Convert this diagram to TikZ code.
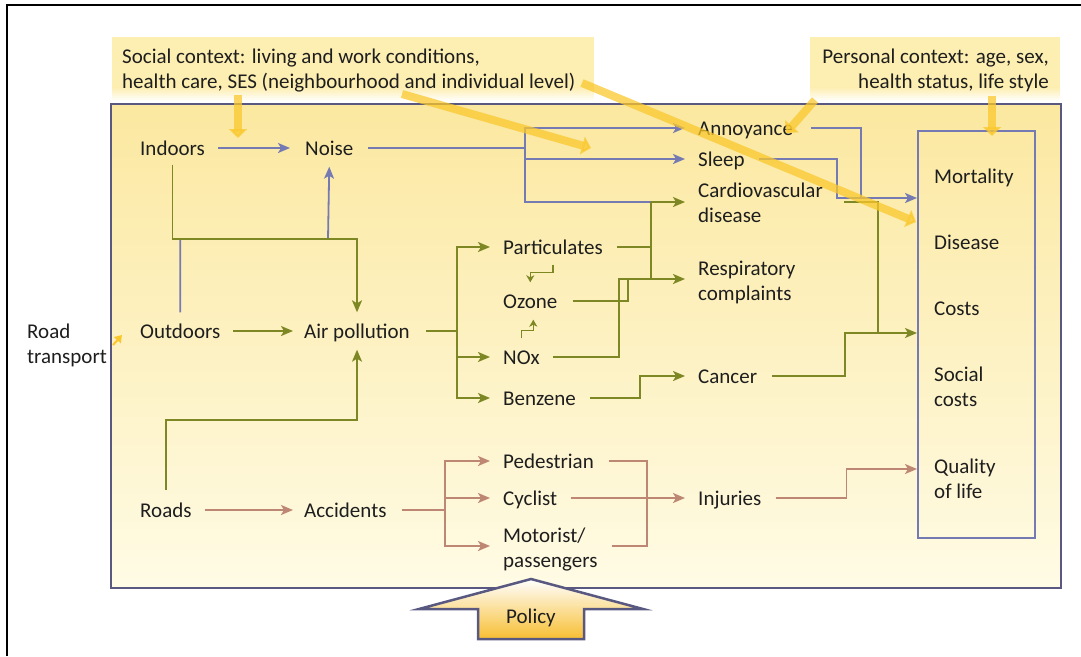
\documentclass[tikz,border=0pt]{standalone}
\usepackage{fontspec}
\setmainfont{Carlito}
\usetikzlibrary{arrows.meta}
\definecolor{cblue}{RGB}{118,122,178}
\definecolor{cgreen}{RGB}{125,135,35}
\definecolor{cred}{RGB}{190,135,115}
\definecolor{cframe}{RGB}{88,88,128}
\definecolor{cyel}{RGB}{250,200,45}
\definecolor{ctx}{RGB}{253,238,178}
\definecolor{btop}{RGB}{251,232,160}
\definecolor{bbot}{RGB}{255,251,229}
\definecolor{ctext}{RGB}{30,30,30}
\definecolor{cpol}{RGB}{247,190,50}
\newcommand{\twol}[1]{\begin{tabular}[t]{@{}l@{}}#1\end{tabular}}
\newcommand{\twor}[1]{\begin{tabular}[t]{@{}r@{}}#1\end{tabular}}
\begin{document}
\begin{tikzpicture}[x=1pt,y=-1pt,
  font=\fontsize{21}{25}\selectfont, text=ctext,
  lbl/.style={inner sep=0pt,anchor=base west,text height=17.5pt,text depth=3.5pt},
  mlbl/.style={inner sep=0pt,anchor=base west},
  bl/.style={draw=cblue,line width=1.8pt},
  gl/.style={draw=cgreen,line width=1.8pt},
  rl/.style={draw=cred,line width=1.8pt},
  tip/.style={-{Stealth[length=12pt,width=10pt,inset=3pt]}},
  stip/.style={-{Stealth[length=7pt,width=8pt,inset=2pt]}},
  yarr/.style={draw=cyel,line width=8pt,opacity=0.75,-{Triangle[length=9pt,width=18pt]}},
]
\useasboundingbox (0,0) rectangle (1081,656);
% outer frame
\draw[black,line width=2.5pt] (7,656) -- (7,5) -- (1081,5);
% context boxes
\fill[ctx] (112,37) rectangle (594,88);
\shade[top color=ctx,bottom color=white] (112,87.5) rectangle (594,101);
\fill[ctx] (810,37) rectangle (1060,88);
\shade[top color=ctx,bottom color=white] (810,87.5) rectangle (1060,101);
% main box
\draw[cframe,line width=2.5pt,top color=btop,bottom color=bbot] (111,104) rectangle (1061,588);
% outcome box
\node (rbox) [draw=cblue,line width=1.5pt,inner sep=0pt,minimum width=117pt,minimum height=407pt,anchor=north west] at (917,130) {};
% labels
\node[mlbl] (socctx) at (122,63) {\twol{Social context: living and work conditions,\\health care, SES (neighbourhood and individual level)}};
\node[mlbl,anchor=base east] (perctx) at (1049,63) {\twor{Personal context: age, sex,\\health status, life style}};
\node[mlbl] (road) at (27,338) {\twol{Road\\transport}};
\node[lbl] (indoors) at (140,155) {Indoors};
\node[lbl] (noise) at (305,155) {Noise};
\node[lbl] (outdoors) at (140,338) {Outdoors};
\node[lbl] (airp) at (304,338) {Air pollution};
\node[lbl] (roads) at (140,517) {Roads};
\node[lbl] (accid) at (304,517) {Accidents};
\node[lbl] (partic) at (503,254) {Particulates};
\node[lbl] (ozone) at (503,308) {Ozone};
\node[lbl] (nox) at (503,364) {NOx};
\node[lbl] (benz) at (503,405) {Benzene};
\node[lbl] (annoy) at (698,135) {Annoyance};
\node[lbl] (sleep) at (698,166) {Sleep};
\node[mlbl] (cardio) at (698,197) {\twol{Cardiovascular\\disease}};
\node[mlbl] (resp) at (698,275) {\twol{Respiratory\\complaints}};
\node[lbl] (cancer) at (698,383) {Cancer};
\node[lbl] (ped) at (503,468) {Pedestrian};
\node[lbl] (cyc) at (503,505) {Cyclist};
\node[mlbl] (motor) at (503,542) {\twol{Motorist/\\passengers}};
\node[lbl] (inj) at (698,505) {Injuries};
\node[lbl] (mort) at (934,183) {Mortality};
\node[lbl] (dis) at (934,249) {Disease};
\node[lbl] (costs) at (934,315) {Costs};
\node[mlbl] (soc) at (934,381) {\twol{Social\\costs}};
\node[mlbl] (qual) at (934,473) {\twol{Quality\\of life}};
% blue connectors
\coordinate (jb) at (328,239);
\draw[bl,tip] ([xshift=13pt]indoors.east) -- ([xshift=-15pt]noise.west);
\draw[bl,tip] ([yshift=8pt]outdoors.north) |- (jb) -- ([yshift=-8pt]noise.south);
\coordinate (nbr) at (525,148);
\coordinate (cvj) at (651,202);
\draw[bl] ([xshift=14pt]noise.east) -- (nbr);
\draw[bl,tip] (nbr) |- ([xshift=-13pt]annoy.west);
\draw[bl,tip] (nbr |- sleep.west) -- ([xshift=-13pt]sleep.west);
\draw[bl] (nbr) |- (cvj);
\coordinate (mortin) at (rbox.west |- 0,198);
\coordinate (am) at (861,198);
\coordinate (sm) at (837,198);
\draw[bl] ([xshift=14pt]sleep.east) -| (sm) -- (am);
\draw[bl,tip] ([xshift=18pt]annoy.east) -| (am) -- (mortin);
% green connectors
\coordinate (rsj) at (651,279);
\coordinate (oz) at (628,279);
\coordinate (nx) at (619,279);
\draw[gl,tip] (cvj) -- ([xshift=-13pt,yshift=2.5pt]cardio.west);
\draw[gl] (cvj) -- (rsj);
\draw[gl,tip] (rsj) -- ([xshift=-13pt,yshift=3.5pt]resp.west);
\draw[gl] ([xshift=14pt]partic.east) -- (partic.east -| cvj);
\draw[gl] ([xshift=15pt]ozone.east) -| (oz);
\draw[gl] ([xshift=13pt]nox.east) -| (nx) -- (rsj);
\coordinate (ja) at (airp.north |- jb);
\draw[gl,tip] ([yshift=-6pt]indoors.south) |- (ja) -- ([yshift=8pt]airp.north);
\draw[gl,tip] ([xshift=13pt]outdoors.east) -- ([xshift=-11pt]airp.west);
\coordinate (jr) at (airp.south |- 0,420);
\draw[gl,tip] ([yshift=9pt]roads.north) |- (jr) -- ([yshift=-8pt]airp.south);
\coordinate (ab) at (457,331);
\draw[gl] ([xshift=16pt]airp.east) -- (ab);
\draw[gl,tip] (ab) |- ([xshift=-13pt]partic.west);
\draw[gl,tip] (ab) |- ([xshift=-13pt]nox.west);
\draw[gl,tip] (ab) |- ([xshift=-13pt]benz.west);
\draw[gl,line width=1.5pt,stip] ([yshift=-7pt]partic.south) -- ++(0,8) -| ([yshift=8pt]ozone.north);
\draw[gl,line width=1.5pt,stip] ([yshift=8pt]nox.north) -- ++(0,-8) -| ([xshift=3pt,yshift=-8pt]ozone.south);
\draw[gl,tip] ([xshift=14pt]benz.east) -- ++(50,0) |- ([xshift=-13pt]cancer.west);
\coordinate (costin) at (rbox.west |- 0,333);
\coordinate (cy) at (878,333);
\draw[gl,tip] ([xshift=15pt]cancer.east) -- ++(73,0) |- (costin);
\draw[gl] ([xshift=21pt,yshift=2.5pt]cardio.east) -| (cy);
% red connectors
\draw[rl,tip] ([xshift=13pt]roads.east) -- ([xshift=-11pt]accid.west);
\coordinate (acb) at (445,510);
\draw[rl] ([xshift=15pt]accid.east) -- (acb);
\draw[rl,tip] (acb) |- ([xshift=-13pt]ped.west);
\draw[rl,tip] (acb) |- ([xshift=-13pt]cyc.west);
\draw[rl,tip] (acb) |- ([xshift=-13pt,yshift=3.5pt]motor.west);
\coordinate (pj) at (647,498);
\draw[rl] ([xshift=15pt]ped.east) -| (pj);
\draw[rl] ([xshift=14pt,yshift=3.5pt]motor.east) -| (pj);
\draw[rl,tip] ([xshift=14pt]cyc.east) -- ([xshift=-13pt]inj.west);
\coordinate (qualin) at (rbox.west |- 0,469);
\draw[rl,tip] ([xshift=14pt]inj.east) -- ++(71,0) |- (qualin);
% policy arrow
\draw[cframe,line width=2.5pt,line join=miter,top color=white,bottom color=cpol] (531,579) -- (643,609) -- (584,609) -- (584,639) -- (478,639) -- (478,609) -- (419,609) -- cycle;
\node[inner sep=0pt,anchor=base] (policy) at (531,623) {Policy};
% yellow context arrows
\coordinate (y1a) at (238,95);  \coordinate (y1b) at (238,138);
\coordinate (y2a) at (402,94);  \coordinate (y2b) at (591,148);
\coordinate (y3a) at (582,83);  \coordinate (y3b) at (916,222);
\coordinate (y4a) at (815,100); \coordinate (y4b) at (786,133);
\coordinate (y5a) at (992,96);  \coordinate (y5b) at (992,136);
\coordinate (y6a) at (113,345); \coordinate (y6b) at (122,335);
\draw[yarr] (y1a) -- (y1b);
\draw[yarr] (y2a) -- (y2b);
\draw[yarr] (y3a) -- (y3b);
\draw[yarr] (y4a) -- (y4b);
\draw[yarr] (y5a) -- (y5b);
\draw[draw=cyel,line width=2pt,-{Triangle[length=7pt,width=9pt]}] (y6a) -- (y6b);
\end{tikzpicture}
\end{document}
